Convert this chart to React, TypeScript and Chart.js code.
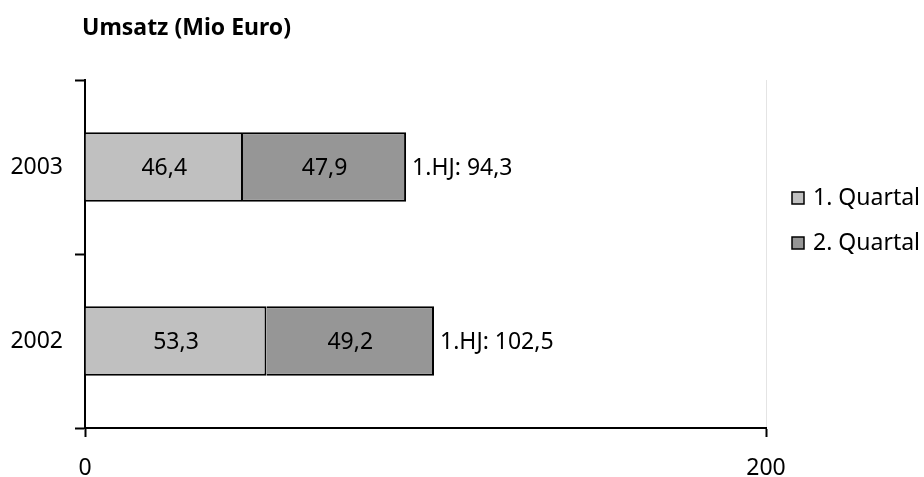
import React, { useEffect, useRef } from 'react';
import { Chart, registerables } from 'chart.js';

Chart.register(...registerables);

const categories = ['2003', '2002'];
const seriesNames = ['1. Quartal', '2. Quartal'];
const q1Values = [46.4, 53.3];
const q2Values = [47.9, 49.2];
const seriesColors = ['#c0c0c0', '#969696'];
const xMin = 0;
const xMax = 200;
const totalPrefix = '1.HJ: ';
const chartTitle = 'Umsatz (Mio Euro)';

const FONT = '"Noto Sans", sans-serif';
const FS = 23;

const fmt = (v: number) => v.toFixed(1).replace('.', ',');

const labelPlugin = {
  id: 'barLabels',
  afterDatasetsDraw(chart: any) {
    const ctx = chart.ctx;
    ctx.save();
    ctx.font = `${FS}px ${FONT}`;
    ctx.fillStyle = '#000';
    ctx.textBaseline = 'middle';
    chart.data.datasets.forEach((ds: any, di: number) => {
      const meta = chart.getDatasetMeta(di);
      meta.data.forEach((bar: any, i: number) => {
        const p = bar.getProps(['x', 'y', 'base'], true);
        ctx.textAlign = 'center';
        ctx.fillText(fmt(ds.data[i]), (p.x + p.base) / 2, p.y + 1);
      });
    });
    const lastIdx = chart.data.datasets.length - 1;
    const last = chart.getDatasetMeta(lastIdx);
    last.data.forEach((bar: any, i: number) => {
      const p = bar.getProps(['x', 'y'], true);
      const total = q1Values[i] + q2Values[i];
      ctx.textAlign = 'left';
      ctx.fillText(totalPrefix + fmt(total), p.x + 6, p.y + 1);
    });
    ctx.restore();
  },
};

const titleLegendPlugin = {
  id: 'titleLegend',
  afterDraw(chart: any) {
    const ctx = chart.ctx;
    ctx.save();
    ctx.fillStyle = '#000';
    ctx.textBaseline = 'middle';
    ctx.textAlign = 'left';
    ctx.font = `bold ${FS}px ${FONT}`;
    ctx.fillText(chartTitle, 82, 28);

    ctx.font = `${FS}px ${FONT}`;
    const lx = 792;
    const ys = [198, 243];
    chart.data.datasets.forEach((ds: any, i: number) => {
      const y = ys[i];
      ctx.fillStyle = ds.backgroundColor;
      ctx.fillRect(lx, y - 6, 12, 12);
      ctx.strokeStyle = '#000';
      ctx.lineWidth = 1.5;
      ctx.strokeRect(lx, y - 6, 12, 12);
      ctx.fillStyle = '#000';
      ctx.fillText(ds.label, lx + 21, y);
    });
    ctx.restore();
  },
};

export default function App() {
  const ref = useRef<HTMLCanvasElement | null>(null);

  useEffect(() => {
    document.body.style.margin = '0';
    const canvas = ref.current;
    if (!canvas) return;
    const chart = new Chart(canvas, {
      type: 'bar',
      data: {
        labels: categories,
        datasets: [
          {
            label: seriesNames[0],
            data: q1Values,
            backgroundColor: seriesColors[0],
            borderColor: '#000',
            borderWidth: 2,
            barPercentage: 0.5,
            categoryPercentage: 0.8,
          },
          {
            label: seriesNames[1],
            data: q2Values,
            backgroundColor: seriesColors[1],
            borderColor: '#000',
            borderWidth: 2,
            barPercentage: 0.5,
            categoryPercentage: 0.8,
          },
        ],
      },
      options: {
        indexAxis: 'y',
        responsive: false,
        animation: false,
        devicePixelRatio: 1,
        layout: { padding: { top: 80, right: 158, bottom: 0, left: 0 } },
        plugins: {
          legend: { display: false },
          title: { display: false },
          tooltip: { enabled: false },
        },
        scales: {
          x: {
            stacked: true,
            min: xMin,
            max: xMax,
            ticks: {
              stepSize: xMax - xMin,
              color: '#000',
              font: { size: FS, family: FONT },
              padding: 18,
              maxRotation: 0,
            },
            grid: {
              color: (c: any) => (c.tick && c.tick.value === xMax ? '#e4e4e4' : 'rgba(0,0,0,0)'),
              lineWidth: 1,
              tickColor: '#000',
              tickLength: 9,
              tickWidth: 2,
            },
            border: { display: true, color: '#000', width: 2 },
            afterFit: (s: any) => {
              s.height = 49;
            },
          },
          y: {
            stacked: true,
            ticks: {
              color: '#000',
              font: { size: FS, family: FONT },
              padding: 12,
            },
            grid: {
              offset: true,
              drawOnChartArea: false,
              drawTicks: true,
              tickLength: 10,
              tickColor: '#000',
              tickWidth: 2,
            },
            border: { display: true, color: '#000', width: 2 },
            afterFit: (s: any) => {
              s.width = 85;
            },
          },
        },
      },
      plugins: [labelPlugin, titleLegendPlugin],
    } as any);
    return () => chart.destroy();
  }, []);

  return (
    <div style={{ width: 924, height: 477 }}>
      <canvas ref={ref} width={924} height={477} style={{ display: 'block' }} />
    </div>
  );
}
